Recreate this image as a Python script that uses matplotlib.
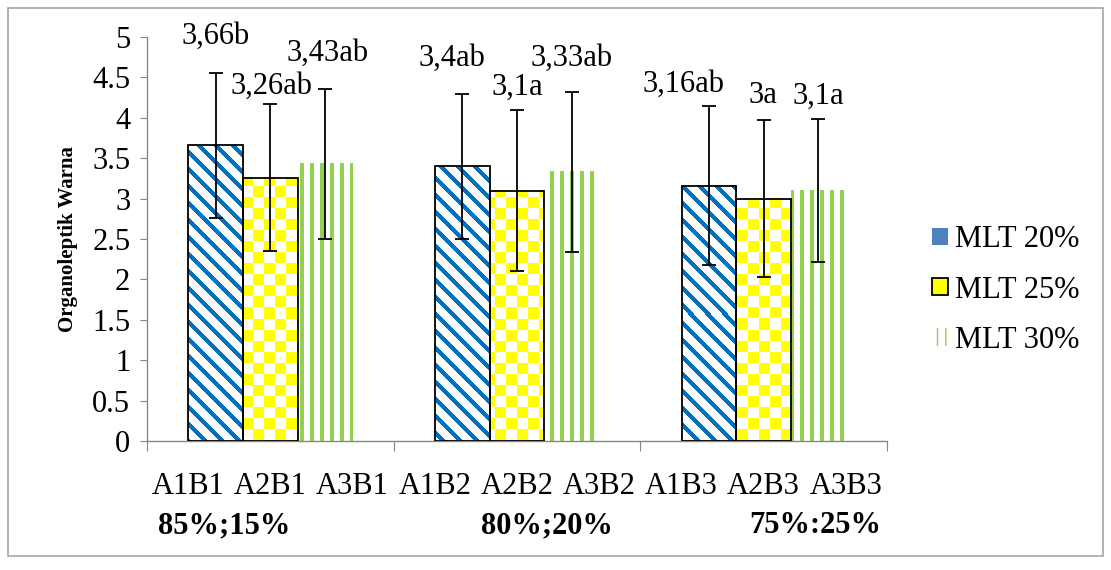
import numpy as np
import matplotlib
matplotlib.use("Agg")
from matplotlib import pyplot as plt
from matplotlib.patches import Patch, Rectangle

plt.rcParams['font.family'] = ['Liberation Serif', 'DejaVu Serif']

groups = ["85%;15%", "80%;20%", "75%:25%"]
categories = ["A1B1", "A2B1", "A3B1", "A1B2", "A2B2", "A3B2", "A1B3", "A2B3", "A3B3"]
series_names = ["MLT 20%", "MLT 25%", "MLT 30%"]

mlt20 = [3.66, 3.40, 3.16]
mlt25 = [3.26, 3.10, 3.00]
mlt30 = [3.43, 3.33, 3.10]
err20 = [0.90, 0.90, 0.98]
err25 = [0.91, 1.00, 0.97]
err30 = [0.93, 0.99, 0.88]

labels20 = ["3,66b", "3,4ab", "3,16ab"]
labels25 = ["3,26ab", "3,1a", "3a"]
labels30 = ["3,43ab", "3,33ab", "3,1a"]

# where the value labels sit (data coords)
label_pos20 = [(-0.22, 5.01), (0.736, 4.74), (1.677, 4.41)]
label_pos25 = [(0.003, 4.39), (1.000, 4.38), (1.997, 4.27)]
label_pos30 = [(0.234, 4.80), (1.223, 4.74), (2.220, 4.27)]
group_label_x = [-0.188, 1.122, 2.208]

BLUE = "#0070C0"
YELLOW = "#FFFF00"
GREEN = "#92D050"
GREY = "#868686"
FS = 22

W, H = 1111, 570
fig = plt.figure(figsize=(W / 100, H / 100), dpi=100)
ax = fig.add_axes([147 / W, 1 - 441 / H, 740 / W, 404 / H])

x = np.arange(len(groups))
bw = 0.222
offsets = [-bw, 0.0, bw]


def make_pattern(kind, px0, ptop, w, h):
    cols = px0 + np.arange(w)[None, :]
    rows = ptop + np.arange(h)[:, None]
    img = np.ones((h, w, 3))
    if kind == "diag":
        mask = ((cols - rows) % 17) < 6
        col = matplotlib.colors.to_rgb(BLUE)
    elif kind == "check":
        mask = ((cols // 11 + rows // 11) % 2) == 0
        col = matplotlib.colors.to_rgb(YELLOW)
    else:
        mask = np.broadcast_to((cols % 10) < 4, (h, w))
        col = matplotlib.colors.to_rgb(GREEN)
    img[mask] = col
    return img


def draw_series(vals, errs, off, kind, edge):
    xs = x + off
    bars = ax.bar(xs, vals, bw, color="white", edgecolor="none", zorder=1)
    for b in bars:
        x0, x1 = b.get_x(), b.get_x() + b.get_width()
        hgt = b.get_height()
        (p0, pb), (p1, pt) = ax.transData.transform([(x0, 0), (x1, hgt)])
        w = max(int(round(p1 - p0)), 1)
        h = max(int(round(pt - pb)), 1)
        img = make_pattern(kind, int(round(p0)), int(round(H - pt)), w, h)
        ax.imshow(img, extent=(x0, x1, 0, hgt), origin="upper", aspect="auto",
                  interpolation="nearest", zorder=2, clip_path=b, clip_on=True)
    if edge:
        ax.bar(xs, vals, bw, fill=False, edgecolor="black", linewidth=1.3, zorder=3)
    ax.errorbar(xs, vals, yerr=errs, fmt="none", ecolor="black", elinewidth=1.3,
                capsize=5, capthick=1.3, zorder=4)


ax.set_xlim(-0.5, 2.5)
ax.set_ylim(0, 5)

draw_series(mlt20, err20, offsets[0], "diag", True)
draw_series(mlt25, err25, offsets[1], "check", True)
draw_series(mlt30, err30, offsets[2], "stripe", False)

ax.set_xlim(-0.5, 2.5)
ax.set_ylim(0, 5)

for labs, pos in [(labels20, label_pos20), (labels25, label_pos25), (labels30, label_pos30)]:
    for t, (lx, ly) in zip(labs, pos):
        ax.text(lx, ly, t, ha="center", va="center", fontsize=FS, clip_on=False)

for sp in ["top", "right"]:
    ax.spines[sp].set_visible(False)
for sp in ["left", "bottom"]:
    ax.spines[sp].set_color(GREY)
    ax.spines[sp].set_linewidth(1.0)

ax.set_yticks(np.arange(0, 5.01, 0.5))
ax.set_yticklabels(["0", "0.5", "1", "1.5", "2", "2.5", "3", "3.5", "4", "4.5", "5"])
ax.tick_params(axis="y", labelsize=FS, length=5, color=GREY, pad=7)

ax.set_xticks([-0.5, 0.5, 1.5, 2.5])
ax.set_xticklabels([])
ax.tick_params(axis="x", which="major", length=7, color=GREY)
cat_x = [g + d for g in x for d in (-1 / 3, 0, 1 / 3)]
ax.set_xticks(cat_x, minor=True)
ax.set_xticklabels(categories, minor=True)
ax.tick_params(axis="x", which="minor", length=0, labelsize=FS, pad=22)

for gx, g in zip(group_label_x, groups):
    ax.text(gx, -0.21, g, ha="center", va="center", fontsize=FS, fontweight="bold",
            transform=ax.get_xaxis_transform(), clip_on=False)

ax.set_ylabel("Organoleptik Warna", fontsize=15, fontweight="bold", labelpad=10)

handles = [
    Patch(facecolor="#4F81BD", edgecolor="none"),
    Patch(facecolor=YELLOW, edgecolor="black", linewidth=1.3),
    Patch(facecolor="white", edgecolor=GREEN, hatch="||", linewidth=0),
]
fig.legend(handles, series_names, loc="center left", bbox_to_anchor=(917 / W, 1 - 290 / H),
           frameon=False, fontsize=FS, handlelength=0.5, handleheight=0.5,
           handletextpad=0.25, labelspacing=0.7, borderpad=0)

fig.add_artist(Rectangle((8 / W, 14 / H), 1095 / W, 548 / H, transform=fig.transFigure,
                         fill=False, edgecolor="#A6A6A6", linewidth=1.2))

fig.savefig("out.png", dpi=100)
